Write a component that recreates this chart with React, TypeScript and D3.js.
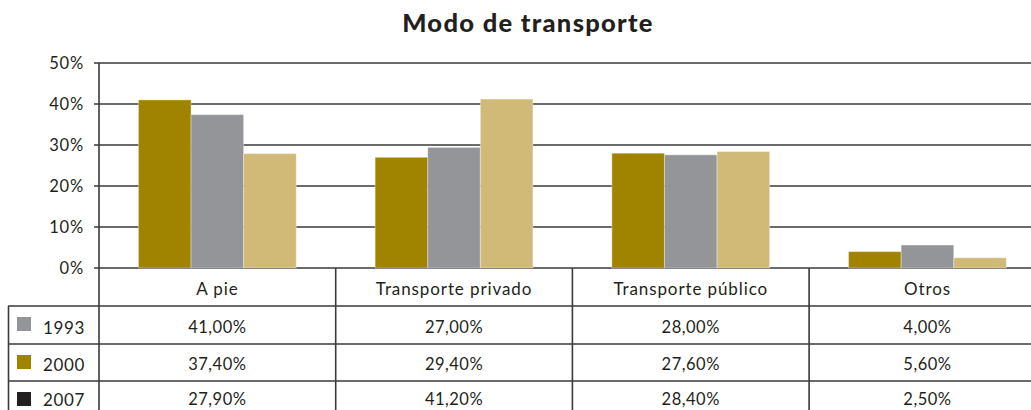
import React from "react";
import * as d3 from "d3";

const categories = ["A pie", "Transporte privado", "Transporte público", "Otros"];
const years = ["1993", "2000", "2007"];
const v1993 = [41.0, 27.0, 28.0, 4.0];
const v2000 = [37.4, 29.4, 27.6, 5.6];
const v2007 = [27.9, 41.2, 28.4, 2.5];
const yTicks = [0, 10, 20, 30, 40, 50];
const barColors = ["#A08400", "#939598", "#D1BA78"];
const legendColors = ["#939598", "#A08400", "#231F20"];

const series = [v1993, v2000, v2007];

const W = 1031;
const H = 410;
const FONT = "Lato, 'Open Sans', sans-serif";
const INK = "#231F20";
const LINE = "#3a3a3a";

export default function App() {
  const left = 99;
  const colW = 236.7;
  const x = d3
    .scaleBand<string>()
    .domain(categories)
    .range([left, left + colW * categories.length])
    .padding(0);
  const xi = d3
    .scaleBand<string>()
    .domain(years)
    .range([0, x.bandwidth()])
    .paddingInner(0)
    .paddingOuter(0.75);
  const y = d3.scaleLinear().domain([0, 50]).range([268, 63]);

  const rowLines = [306, 344, 381, 419];
  const fmt = d3.format(".2f");
  const pct = (v: number) => fmt(v).replace(".", ",") + "%";
  const valueOffsets = [27, 26, 24];

  return (
    <svg
      width={W}
      height={H}
      style={{ position: "absolute", left: 0, top: 0, background: "#fff" }}
      fontFamily={FONT}
    >
      <text
        x={528}
        y={32}
        textAnchor="middle"
        fontSize={25.5}
        fontWeight={900}
        letterSpacing={1.3}
        fill={INK}
      >
        Modo de transporte
      </text>

      {/* gridlines */}
      {yTicks.map((t) => (
        <g key={t}>
          <line x1={94} x2={W} y1={y(t)} y2={y(t)} stroke={LINE} strokeWidth={1.6} />
          <text
            x={84}
            y={y(t)}
            dy="0.35em"
            textAnchor="end"
            fontSize={16.5}
            letterSpacing={0.8}
            fill={INK}
          >
            {t}%
          </text>
        </g>
      ))}

      {/* bars */}
      {categories.map((c, ci) => (
        <g key={c} transform={`translate(${x(c)},0)`}>
          {years.map((yr, si) => (
            <rect
              key={yr}
              x={xi(yr)}
              y={y(series[si][ci])}
              width={xi.bandwidth()}
              height={y(0) - y(series[si][ci])}
              fill={barColors[si]}
              stroke="rgba(255,255,255,0.35)"
              strokeWidth={1}
            />
          ))}
        </g>
      ))}

      {/* y axis line */}
      <line x1={left} x2={left} y1={y(50)} y2={H} stroke={LINE} strokeWidth={1.6} />

      {/* table horizontal lines */}
      {rowLines.map((ly) => (
        <line key={ly} x1={8} x2={W} y1={ly} y2={ly} stroke={LINE} strokeWidth={1.6} />
      ))}
      <line x1={8.5} x2={8.5} y1={306} y2={H} stroke={LINE} strokeWidth={1.6} />
      {categories.map((c, ci) =>
        ci > 0 ? (
          <line
            key={c}
            x1={x(c)}
            x2={x(c)}
            y1={y(0)}
            y2={H}
            stroke={LINE}
            strokeWidth={1.6}
          />
        ) : null
      )}

      {/* category headers */}
      {categories.map((c) => (
        <text
          key={c}
          x={(x(c) as number) + x.bandwidth() / 2}
          y={295}
          textAnchor="middle"
          fontSize={17}
          letterSpacing={0.9}
          fill={INK}
        >
          {c}
        </text>
      ))}

      {/* rows */}
      {years.map((yr, si) => {
        const top = rowLines[si];
        return (
          <g key={yr}>
            <rect x={17} y={top + 11} width={14} height={14} fill={legendColors[si]} />
            <text
              x={43}
              y={top + valueOffsets[si] + 1}
              fontSize={17}
              letterSpacing={0.6}
              fill={INK}
            >
              {yr}
            </text>
            {categories.map((c, ci) => (
              <text
                key={c}
                x={(x(c) as number) + x.bandwidth() / 2}
                y={top + valueOffsets[si]}
                textAnchor="middle"
                fontSize={16.5}
                letterSpacing={0.5}
                fill={INK}
              >
                {pct(series[si][ci])}
              </text>
            ))}
          </g>
        );
      })}
    </svg>
  );
}
